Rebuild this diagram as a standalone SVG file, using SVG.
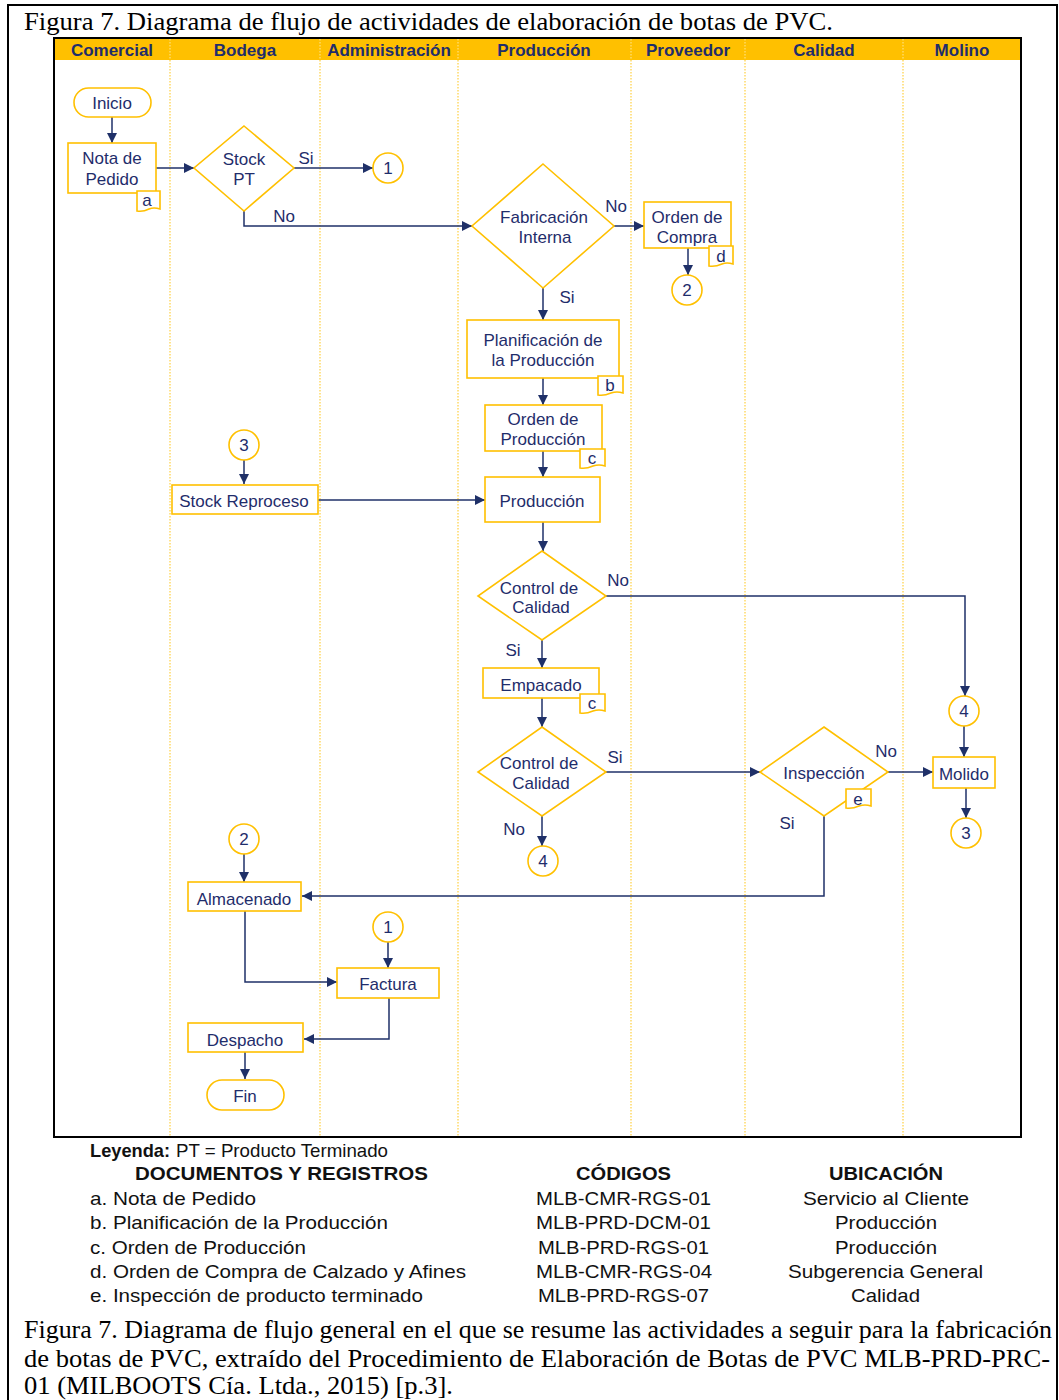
<svg xmlns="http://www.w3.org/2000/svg" width="1059" height="1400" viewBox="0 0 1059 1400">
  <defs>
    <style>
      .lane { stroke: #FFD966; stroke-width: 1.5; stroke-dasharray: 1.5 1.5; }
      .hdr { font-family: "Liberation Sans", Arial, sans-serif; font-weight: bold; font-size: 17px; fill: #1F2D6B; text-anchor: middle; }
      .box { fill: #FFFFFF; stroke: #FFC000; stroke-width: 1.6; }
      .lbl { font-family: "Liberation Sans", Arial, sans-serif; font-size: 17px; fill: #1F2D6B; text-anchor: middle; }
      .edge { fill: none; stroke: #1F3068; stroke-width: 1.5; }
      .leg { font-family: "Liberation Sans", Arial, sans-serif; font-size: 19px; fill: #111111; }
      .legb { font-family: "Liberation Sans", Arial, sans-serif; font-size: 19px; font-weight: bold; fill: #111111; }
      .cap { font-family: "Liberation Serif", "Times New Roman", serif; font-size: 25px; fill: #000000; }
    </style>
    <marker id="arrow" viewBox="0 0 10 10" refX="10" refY="5" markerWidth="11" markerHeight="10" markerUnits="userSpaceOnUse" orient="auto">
      <path d="M0,0 L10,5 L0,10 Z" fill="#1F3068"/>
    </marker>
  </defs>

  <rect x="0" y="0" width="1059" height="1400" fill="#FFFFFF"/>
  <!-- page border -->
  <rect x="8" y="5" width="1049" height="1410" fill="none" stroke="#000000" stroke-width="2"/>

  <!-- figure title -->
  <text class="cap" x="24" y="30" textLength="809" lengthAdjust="spacingAndGlyphs">Figura 7. Diagrama de flujo de actividades de elaboración de botas de PVC.</text>

  <!-- swimlane frame and header -->
  <g id="lanes">
    <rect x="54" y="39" width="967" height="21" fill="#FFC000"/>
    <line class="lane" x1="170" y1="39" x2="170" y2="1137"/>
    <line class="lane" x1="320" y1="39" x2="320" y2="1137"/>
    <line class="lane" x1="458" y1="39" x2="458" y2="1137"/>
    <line class="lane" x1="631" y1="39" x2="631" y2="1137"/>
    <line class="lane" x1="745" y1="39" x2="745" y2="1137"/>
    <line class="lane" x1="903" y1="39" x2="903" y2="1137"/>
    <text class="hdr" x="112" y="56">Comercial</text>
    <text class="hdr" x="245" y="56">Bodega</text>
    <text class="hdr" x="389" y="56">Administración</text>
    <text class="hdr" x="544" y="56">Producción</text>
    <text class="hdr" x="688" y="56">Proveedor</text>
    <text class="hdr" x="824" y="56">Calidad</text>
    <text class="hdr" x="962" y="56">Molino</text>
    <rect x="54" y="38" width="967" height="1099" fill="none" stroke="#000000" stroke-width="2"/>
  </g>

  <!-- connectors -->
  <g id="connectors">
    <path class="edge" d="M112,117 V143" marker-end="url(#arrow)"/>
    <path class="edge" d="M156,168 H194" marker-end="url(#arrow)"/>
    <path class="edge" d="M294,168 H373" marker-end="url(#arrow)"/>
    <path class="edge" d="M244,211 V226 H472" marker-end="url(#arrow)"/>
    <path class="edge" d="M614,226 H644" marker-end="url(#arrow)"/>
    <path class="edge" d="M688,248 V275" marker-end="url(#arrow)"/>
    <path class="edge" d="M543,288 V320" marker-end="url(#arrow)"/>
    <path class="edge" d="M543,378 V405" marker-end="url(#arrow)"/>
    <path class="edge" d="M543,451 V477" marker-end="url(#arrow)"/>
    <path class="edge" d="M244,460 V484" marker-end="url(#arrow)"/>
    <path class="edge" d="M318,500 H485" marker-end="url(#arrow)"/>
    <path class="edge" d="M543,522 V551" marker-end="url(#arrow)"/>
    <path class="edge" d="M606,596 H965 V696" marker-end="url(#arrow)"/>
    <path class="edge" d="M542,640 V668" marker-end="url(#arrow)"/>
    <path class="edge" d="M542,698 V727" marker-end="url(#arrow)"/>
    <path class="edge" d="M606,772 H760" marker-end="url(#arrow)"/>
    <path class="edge" d="M888,772 H933" marker-end="url(#arrow)"/>
    <path class="edge" d="M964,726 V757" marker-end="url(#arrow)"/>
    <path class="edge" d="M966,788 V818" marker-end="url(#arrow)"/>
    <path class="edge" d="M542,816 V846" marker-end="url(#arrow)"/>
    <path class="edge" d="M824,816 V896 H302" marker-end="url(#arrow)"/>
    <path class="edge" d="M244,854 V882" marker-end="url(#arrow)"/>
    <path class="edge" d="M245,911 V982 H337" marker-end="url(#arrow)"/>
    <path class="edge" d="M388,942 V968" marker-end="url(#arrow)"/>
    <path class="edge" d="M389,998 V1039 H304" marker-end="url(#arrow)"/>
    <path class="edge" d="M245,1052 V1079" marker-end="url(#arrow)"/>
    <!-- branch labels -->
    <text class="lbl" x="306" y="164">Si</text>
    <text class="lbl" x="284" y="222">No</text>
    <text class="lbl" x="616" y="212">No</text>
    <text class="lbl" x="567" y="303">Si</text>
    <text class="lbl" x="618" y="586">No</text>
    <text class="lbl" x="513" y="656">Si</text>
    <text class="lbl" x="615" y="763">Si</text>
    <text class="lbl" x="886" y="757">No</text>
    <text class="lbl" x="514" y="835">No</text>
    <text class="lbl" x="787" y="829">Si</text>
  </g>

  <!-- terminals -->
  <g id="inicio">
    <rect class="box" x="74" y="88" width="77" height="29" rx="14.5"/>
    <text class="lbl" x="112" y="109">Inicio</text>
  </g>
  <g id="fin">
    <rect class="box" x="207" y="1080" width="77" height="30" rx="15"/>
    <text class="lbl" x="245" y="1102">Fin</text>
  </g>

  <!-- process boxes -->
  <g id="nota-pedido">
    <rect class="box" x="68" y="143" width="88" height="50"/>
    <text class="lbl" x="112" y="164">Nota de</text>
    <text class="lbl" x="112" y="185">Pedido</text>
    <path class="box" d="M137,191 H160 V209 Q154,207 149,209 Q143,212 137,211 Z"/>
    <text class="lbl" x="147" y="206">a</text>
  </g>
  <g id="orden-compra">
    <rect class="box" x="644" y="202" width="87" height="46"/>
    <text class="lbl" x="687" y="223">Orden de</text>
    <text class="lbl" x="687" y="243">Compra</text>
    <path class="box" d="M709,246 H733 V264 Q727,262 722,264 Q715,267 709,266 Z"/>
    <text class="lbl" x="721" y="262">d</text>
  </g>
  <g id="planificacion">
    <rect class="box" x="467" y="320" width="152" height="58"/>
    <text class="lbl" x="543" y="346">Planificación de</text>
    <text class="lbl" x="543" y="366">la Producción</text>
    <path class="box" d="M598,376 H623 V393 Q617,391 611,393 Q604,396 598,395 Z"/>
    <text class="lbl" x="610" y="391">b</text>
  </g>
  <g id="orden-produccion">
    <rect class="box" x="485" y="405" width="117" height="46"/>
    <text class="lbl" x="543" y="425">Orden de</text>
    <text class="lbl" x="543" y="445">Producción</text>
    <path class="box" d="M580,449 H605 V466 Q599,464 593,466 Q586,469 580,468 Z"/>
    <text class="lbl" x="592" y="464">c</text>
  </g>
  <g id="produccion">
    <rect class="box" x="485" y="477" width="115" height="45"/>
    <text class="lbl" x="542" y="507">Producción</text>
  </g>
  <g id="stock-reproceso">
    <rect class="box" x="172" y="485" width="146" height="29"/>
    <text class="lbl" x="244" y="507">Stock Reproceso</text>
  </g>
  <g id="empacado">
    <rect class="box" x="483" y="668" width="116" height="30"/>
    <text class="lbl" x="541" y="691">Empacado</text>
    <path class="box" d="M580,694 H605 V711 Q599,709 593,711 Q586,714 580,713 Z"/>
    <text class="lbl" x="592" y="709">c</text>
  </g>
  <g id="molido">
    <rect class="box" x="933" y="757" width="62" height="31"/>
    <text class="lbl" x="964" y="780">Molido</text>
  </g>
  <g id="almacenado">
    <rect class="box" x="188" y="882" width="113" height="29"/>
    <text class="lbl" x="244" y="905">Almacenado</text>
  </g>
  <g id="factura">
    <rect class="box" x="337" y="968" width="102" height="30"/>
    <text class="lbl" x="388" y="990">Factura</text>
  </g>
  <g id="despacho">
    <rect class="box" x="188" y="1023" width="115" height="29"/>
    <text class="lbl" x="245" y="1046">Despacho</text>
  </g>

  <!-- decisions -->
  <g id="stock-pt">
    <polygon class="box" points="244,126 294,168 244,211 194,168"/>
    <text class="lbl" x="244" y="165">Stock</text>
    <text class="lbl" x="244" y="185">PT</text>
  </g>
  <g id="fabricacion-interna">
    <polygon class="box" points="543,164 614,226 543,288 472,226"/>
    <text class="lbl" x="544" y="223">Fabricación</text>
    <text class="lbl" x="545" y="243">Interna</text>
  </g>
  <g id="control-calidad-1">
    <polygon class="box" points="542,551 606,596 542,640 478,596"/>
    <text class="lbl" x="539" y="594">Control de</text>
    <text class="lbl" x="541" y="613">Calidad</text>
  </g>
  <g id="control-calidad-2">
    <polygon class="box" points="542,727 606,772 542,816 478,772"/>
    <text class="lbl" x="539" y="769">Control de</text>
    <text class="lbl" x="541" y="789">Calidad</text>
  </g>
  <g id="inspeccion">
    <polygon class="box" points="824,727 888,772 824,816 760,772"/>
    <text class="lbl" x="824" y="779">Inspección</text>
    <path class="box" d="M846,789 H871 V806 Q865,804 859,806 Q852,809 846,808 Z"/>
    <text class="lbl" x="858" y="805">e</text>
  </g>

  <!-- on-page connectors -->
  <g id="ref-1a"><circle class="box" cx="388" cy="168" r="15"/><text class="lbl" x="388" y="174">1</text></g>
  <g id="ref-2a"><circle class="box" cx="687" cy="290" r="15"/><text class="lbl" x="687" y="296">2</text></g>
  <g id="ref-3a"><circle class="box" cx="244" cy="445" r="15"/><text class="lbl" x="244" y="451">3</text></g>
  <g id="ref-4a"><circle class="box" cx="964" cy="711" r="15"/><text class="lbl" x="964" y="717">4</text></g>
  <g id="ref-3b"><circle class="box" cx="966" cy="833" r="15"/><text class="lbl" x="966" y="839">3</text></g>
  <g id="ref-4b"><circle class="box" cx="543" cy="861" r="15"/><text class="lbl" x="543" y="867">4</text></g>
  <g id="ref-2b"><circle class="box" cx="244" cy="839" r="15"/><text class="lbl" x="244" y="845">2</text></g>
  <g id="ref-1b"><circle class="box" cx="388" cy="927" r="15"/><text class="lbl" x="388" y="933">1</text></g>

  <!-- legend and records table -->
  <g id="legend">
    <text class="legb" x="90" y="1157" font-size="18" textLength="80" lengthAdjust="spacingAndGlyphs">Leyenda:</text>
    <text class="leg" x="176" y="1157" font-size="18" textLength="212" lengthAdjust="spacingAndGlyphs">PT = Producto Terminado</text>
    <text class="legb" x="135" y="1180" textLength="293" lengthAdjust="spacingAndGlyphs">DOCUMENTOS Y REGISTROS</text>
    <text class="leg" x="90" y="1205" textLength="166" lengthAdjust="spacingAndGlyphs">a. Nota de Pedido</text>
    <text class="leg" x="90" y="1229" textLength="298" lengthAdjust="spacingAndGlyphs">b. Planificación de la Producción</text>
    <text class="leg" x="90" y="1254" textLength="216" lengthAdjust="spacingAndGlyphs">c. Orden de Producción</text>
    <text class="leg" x="90" y="1278" textLength="376" lengthAdjust="spacingAndGlyphs">d. Orden de Compra de Calzado y Afines</text>
    <text class="leg" x="90" y="1302" textLength="333" lengthAdjust="spacingAndGlyphs">e. Inspección de producto terminado</text>

    <text class="legb" x="576" y="1180" textLength="95" lengthAdjust="spacingAndGlyphs">CÓDIGOS</text>
    <text class="leg" x="536" y="1205" textLength="175" lengthAdjust="spacingAndGlyphs">MLB-CMR-RGS-01</text>
    <text class="leg" x="536" y="1229" textLength="175" lengthAdjust="spacingAndGlyphs">MLB-PRD-DCM-01</text>
    <text class="leg" x="538" y="1254" textLength="171" lengthAdjust="spacingAndGlyphs">MLB-PRD-RGS-01</text>
    <text class="leg" x="536" y="1278" textLength="176" lengthAdjust="spacingAndGlyphs">MLB-CMR-RGS-04</text>
    <text class="leg" x="538" y="1302" textLength="171" lengthAdjust="spacingAndGlyphs">MLB-PRD-RGS-07</text>

    <text class="legb" x="829" y="1180" textLength="114" lengthAdjust="spacingAndGlyphs">UBICACIÓN</text>
    <text class="leg" x="803" y="1205" textLength="166" lengthAdjust="spacingAndGlyphs">Servicio al Cliente</text>
    <text class="leg" x="835" y="1229" textLength="102" lengthAdjust="spacingAndGlyphs">Producción</text>
    <text class="leg" x="835" y="1254" textLength="102" lengthAdjust="spacingAndGlyphs">Producción</text>
    <text class="leg" x="788" y="1278" textLength="195" lengthAdjust="spacingAndGlyphs">Subgerencia General</text>
    <text class="leg" x="851" y="1302" textLength="69" lengthAdjust="spacingAndGlyphs">Calidad</text>
  </g>

  <!-- figure caption -->
  <text class="cap" x="24" y="1338" textLength="1028" lengthAdjust="spacingAndGlyphs">Figura 7. Diagrama de flujo general en el que se resume las actividades a seguir para la fabricación</text>
  <text class="cap" x="24" y="1367" textLength="1026" lengthAdjust="spacingAndGlyphs">de botas de PVC, extraído del Procedimiento de Elaboración de Botas de PVC MLB-PRD-PRC-</text>
  <text class="cap" x="24" y="1394" font-size="24" textLength="429" lengthAdjust="spacingAndGlyphs">01 (MILBOOTS Cía. Ltda., 2015) [p.3].</text>
</svg>
